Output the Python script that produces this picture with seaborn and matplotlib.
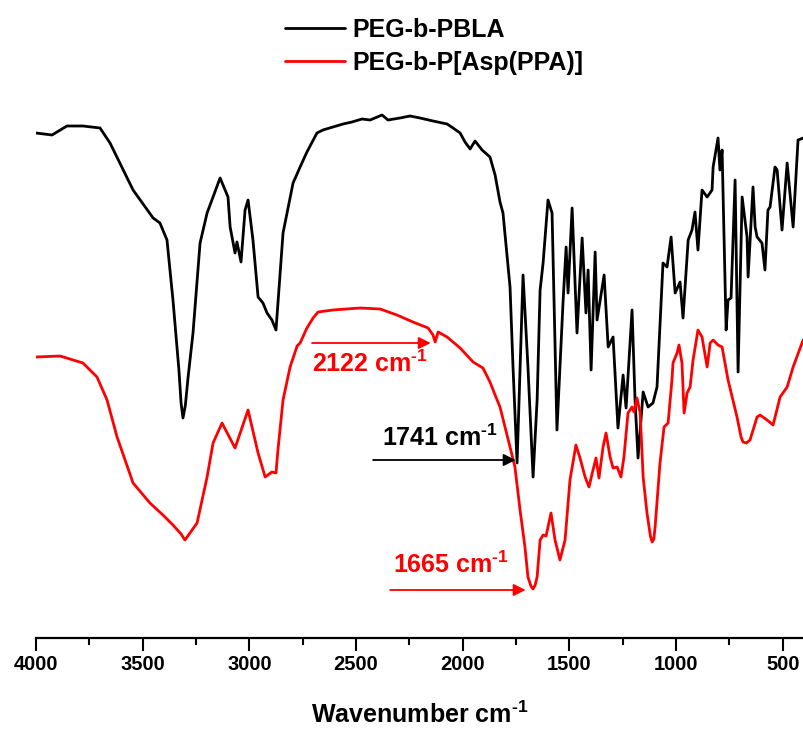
import numpy as np
import pandas as pd
import matplotlib
matplotlib.use("Agg")
import matplotlib.pyplot as plt
import seaborn as sns

# FTIR spectra: wavenumber (cm^-1) and transmittance (a.u.)
pbla_wavenumber = [
    4000, 3925, 3855, 3780, 3700, 3653, 3545, 3451, 3419, 3386, 3358, 3330, 3320, 3311, 3300, 3287,
    3264, 3231, 3198, 3137, 3100, 3090, 3067, 3058, 3039, 3020, 3006, 2983, 2959, 2936, 2917, 2894,
    2875, 2842, 2795, 2762, 2730, 2683, 2655, 2608, 2561, 2519, 2472, 2434, 2378, 2350,
    2294, 2247, 2200, 2139, 2073, 2045, 2012, 1989, 1965, 1942, 1909, 1872, 1848, 1825,
    1811, 1778, 1764, 1745, 1717, 1694, 1670, 1651, 1637, 1623, 1600, 1581, 1558, 1529,
    1515, 1506, 1487, 1464, 1440, 1422, 1412, 1398, 1379, 1370, 1337, 1318, 1295, 1272,
    1248, 1234, 1206, 1192, 1178, 1154, 1131, 1108, 1089, 1061, 1042, 1023, 1004, 981,
    967, 943, 925, 911, 897, 878, 854, 831, 826, 803, 794, 784, 765, 756, 742, 723, 709,
    690, 667, 662, 639, 629, 620, 597, 583, 569, 559, 536, 526, 503, 479, 451, 428, 404,
]
pbla_transmittance = [
    101.0, 100.6, 102.4, 102.4, 102.0, 99.0, 89.6, 84.0, 83.0, 79.6, 67.6, 53.6, 47.0, 44.0, 46.5, 52.2,
    61.0, 79.0, 85.0, 92.0, 88.2, 82.2, 77.0, 79.2, 75.2, 85.6, 87.6, 79.6, 68.2, 67.0, 65.0, 63.6,
    61.6, 81.0, 91.0, 94.2, 97.2, 101.0, 101.6, 102.2, 102.8, 103.2, 103.8, 103.6, 104.6, 103.6,
    104.0, 104.4, 104.0, 103.4, 102.8, 102.0, 101.0, 99.2, 97.8, 99.4, 97.6, 96.2, 92.6, 87.2,
    85.0, 70.2, 54.2, 35.0, 72.6, 54.2, 32.2, 47.6, 69.6, 75.0, 87.6, 85.0, 41.6, 67.6,
    78.2, 69.0, 86.0, 61.0, 80.0, 65.0, 73.6, 53.6, 77.2, 63.6, 72.6, 58.2, 60.2, 42.0,
    52.6, 46.0, 65.6, 47.6, 36.0, 49.2, 46.2, 47.0, 50.2, 75.0, 74.2, 80.2, 69.0, 71.2,
    64.0, 79.6, 81.6, 85.2, 77.6, 89.6, 88.2, 89.6, 94.2, 100.0, 93.6, 97.6, 61.6, 67.6, 68.0, 91.6, 53.2,
    88.2, 80.2, 72.2, 90.2, 82.2, 80.2, 79.0, 73.6, 85.6, 86.2, 94.2, 93.6, 81.6, 95.0, 82.2, 99.6, 100.0,
]

ppa_wavenumber = [
    4000, 3887, 3780, 3714, 3667, 3620, 3545, 3466, 3405, 3358, 3320, 3302, 3285, 3245, 3198, 3170,
    3128, 3067, 3006, 2959, 2926, 2894, 2875, 2866, 2842, 2809, 2776, 2762, 2730, 2701,
    2678, 2608, 2481, 2387, 2308, 2233, 2162, 2139, 2129, 2115, 2073, 2012, 1951, 1905,
    1872, 1848, 1825, 1778, 1755, 1731, 1708, 1694, 1680, 1670, 1660, 1651, 1637, 1623, 1609, 1586,
    1567, 1544, 1520, 1497, 1469, 1450, 1426, 1408, 1389, 1375, 1361, 1342, 1328, 1309,
    1295, 1276, 1258, 1244, 1225, 1206, 1197, 1183, 1168, 1154, 1136, 1120, 1112, 1104, 1098, 1075,
    1056, 1037, 1019, 1014, 995, 986, 972, 962, 948, 934, 920, 897, 878, 854, 840, 826,
    803, 784, 756, 714, 695, 686, 670, 653, 620, 606, 573, 545, 512, 479, 451, 404,
]
ppa_transmittance = [
    56.2, 56.4, 55.0, 52.2, 47.6, 40.2, 31.0, 27.0, 24.6, 22.6, 20.8, 19.6, 20.6, 23.0, 32.2, 39.0,
    43.0, 38.0, 45.6, 37.0, 32.2, 33.2, 33.0, 37.6, 47.6, 54.2, 58.4, 59.0, 62.0, 64.0,
    65.2, 65.6, 66.0, 65.8, 64.6, 63.2, 62.0, 60.6, 59.2, 61.2, 60.2, 58.0, 55.2, 54.0,
    51.2, 48.6, 46.2, 38.2, 34.2, 25.6, 18.2, 12.2, 10.4, 9.8, 10.6, 12.2, 19.6, 20.6, 20.4, 25.0,
    19.6, 15.6, 19.6, 31.6, 38.6, 36.0, 32.2, 30.2, 33.6, 36.0, 32.0, 38.2, 41.0, 36.2,
    34.0, 34.2, 32.2, 36.2, 45.0, 46.2, 45.2, 48.0, 45.0, 32.2, 25.0, 20.4, 19.2, 19.8, 22.2, 35.0,
    42.2, 43.0, 51.6, 55.0, 57.0, 58.6, 55.0, 45.0, 49.0, 50.2, 55.6, 61.6, 60.2, 54.2, 59.0, 59.6,
    58.6, 58.2, 51.6, 44.2, 40.2, 39.2, 39.0, 39.6, 44.2, 44.6, 43.6, 42.6, 48.2, 50.2, 54.2, 59.6,
]

series_labels = ["PEG-b-PBLA", "PEG-b-P[Asp(PPA)]"]
series_colors = ["#000000", "#ff0000"]

# Marked bands: (label, arrow tail, arrow head, text anchor, colour)
band_labels = [r"2122 cm$^{\text{-}1}$", r"1741 cm$^{\text{-}1}$", r"1665 cm$^{\text{-}1}$"]
band_arrow_from = [(2706, 59.0), (2420, 35.6), (2340, 9.6)]
band_arrow_to = [(2150, 59.0), (1752, 35.6), (1705, 9.6)]
band_text_at = [(2706, 54.8), (2378, 40.0), (2326, 14.6)]
band_colors = ["#ff0000", "#000000", "#ff0000"]

sns.set_style("white")
plt.rcParams["font.family"] = ["Liberation Sans", "DejaVu Sans"]
plt.rcParams["font.weight"] = "bold"
plt.rcParams["text.color"] = "black"
plt.rcParams["axes.labelcolor"] = "black"
plt.rcParams["xtick.color"] = "black"
plt.rcParams["mathtext.fontset"] = "custom"
plt.rcParams["mathtext.rm"] = "Liberation Sans:bold"
plt.rcParams["mathtext.it"] = "Liberation Sans:bold"
plt.rcParams["mathtext.bf"] = "Liberation Sans:bold"
plt.rcParams["mathtext.default"] = "rm"

df = pd.concat([
    pd.DataFrame({"wavenumber": pbla_wavenumber, "T": pbla_transmittance, "sample": series_labels[0]}),
    pd.DataFrame({"wavenumber": ppa_wavenumber, "T": ppa_transmittance, "sample": series_labels[1]}),
], ignore_index=True)

fig = plt.figure(figsize=(8.04, 7.29), dpi=100)
ax = fig.add_axes([36 / 804, 91 / 729, 768 / 804, 538 / 729])

sns.lineplot(data=df, x="wavenumber", y="T", hue="sample", palette=series_colors,
             hue_order=series_labels, sort=False, estimator=None, linewidth=2.0,
             ax=ax, legend=True)
for line in ax.get_lines():
    line.set_solid_joinstyle("round")

ax.set_xlim(4000, 400)
ax.set_ylim(0, 107.6)

for spine in ["left", "right", "top"]:
    ax.spines[spine].set_visible(False)
ax.spines["bottom"].set_linewidth(1.6)
ax.spines["bottom"].set_color("black")

ax.set_xticks(np.arange(4000, 399, -500))
ax.set_xticks(np.arange(3750, 399, -500), minor=True)
ax.tick_params(axis="x", which="major", direction="out", length=9, width=1.5,
               labelsize=14.5, pad=3, colors="black", bottom=True)
ax.tick_params(axis="x", which="minor", direction="out", length=5, width=1.5, bottom=True)
ax.set_yticks([])
ax.set_ylabel("")
ax.set_xlabel(r"Wavenumber cm$^{\text{-}1}$", fontsize=18, fontweight="bold", labelpad=20)
for lbl in ax.get_xticklabels():
    lbl.set_fontweight("bold")

for text, start, end, pos, color in zip(band_labels, band_arrow_from, band_arrow_to,
                                        band_text_at, band_colors):
    ax.annotate("", xy=end, xytext=start,
                arrowprops=dict(arrowstyle="-|>", color=color, lw=1.3,
                                mutation_scale=18, shrinkA=0, shrinkB=0))
    ax.text(pos[0], pos[1], text, color=color, fontsize=18, fontweight="bold",
            ha="left", va="center")

handles, labels = ax.get_legend_handles_labels()
ax.get_legend().remove()
for h in handles:
    h.set_linewidth(2.0)
fig.legend(handles, labels, loc="upper left", bbox_to_anchor=(285 / 804, 0.975),
           frameon=False, handlelength=2.4, handletextpad=0.3,
           labelspacing=0.35, borderpad=0, borderaxespad=0,
           prop={"weight": "bold", "size": 18})

fig.savefig("out.png", dpi=100)
